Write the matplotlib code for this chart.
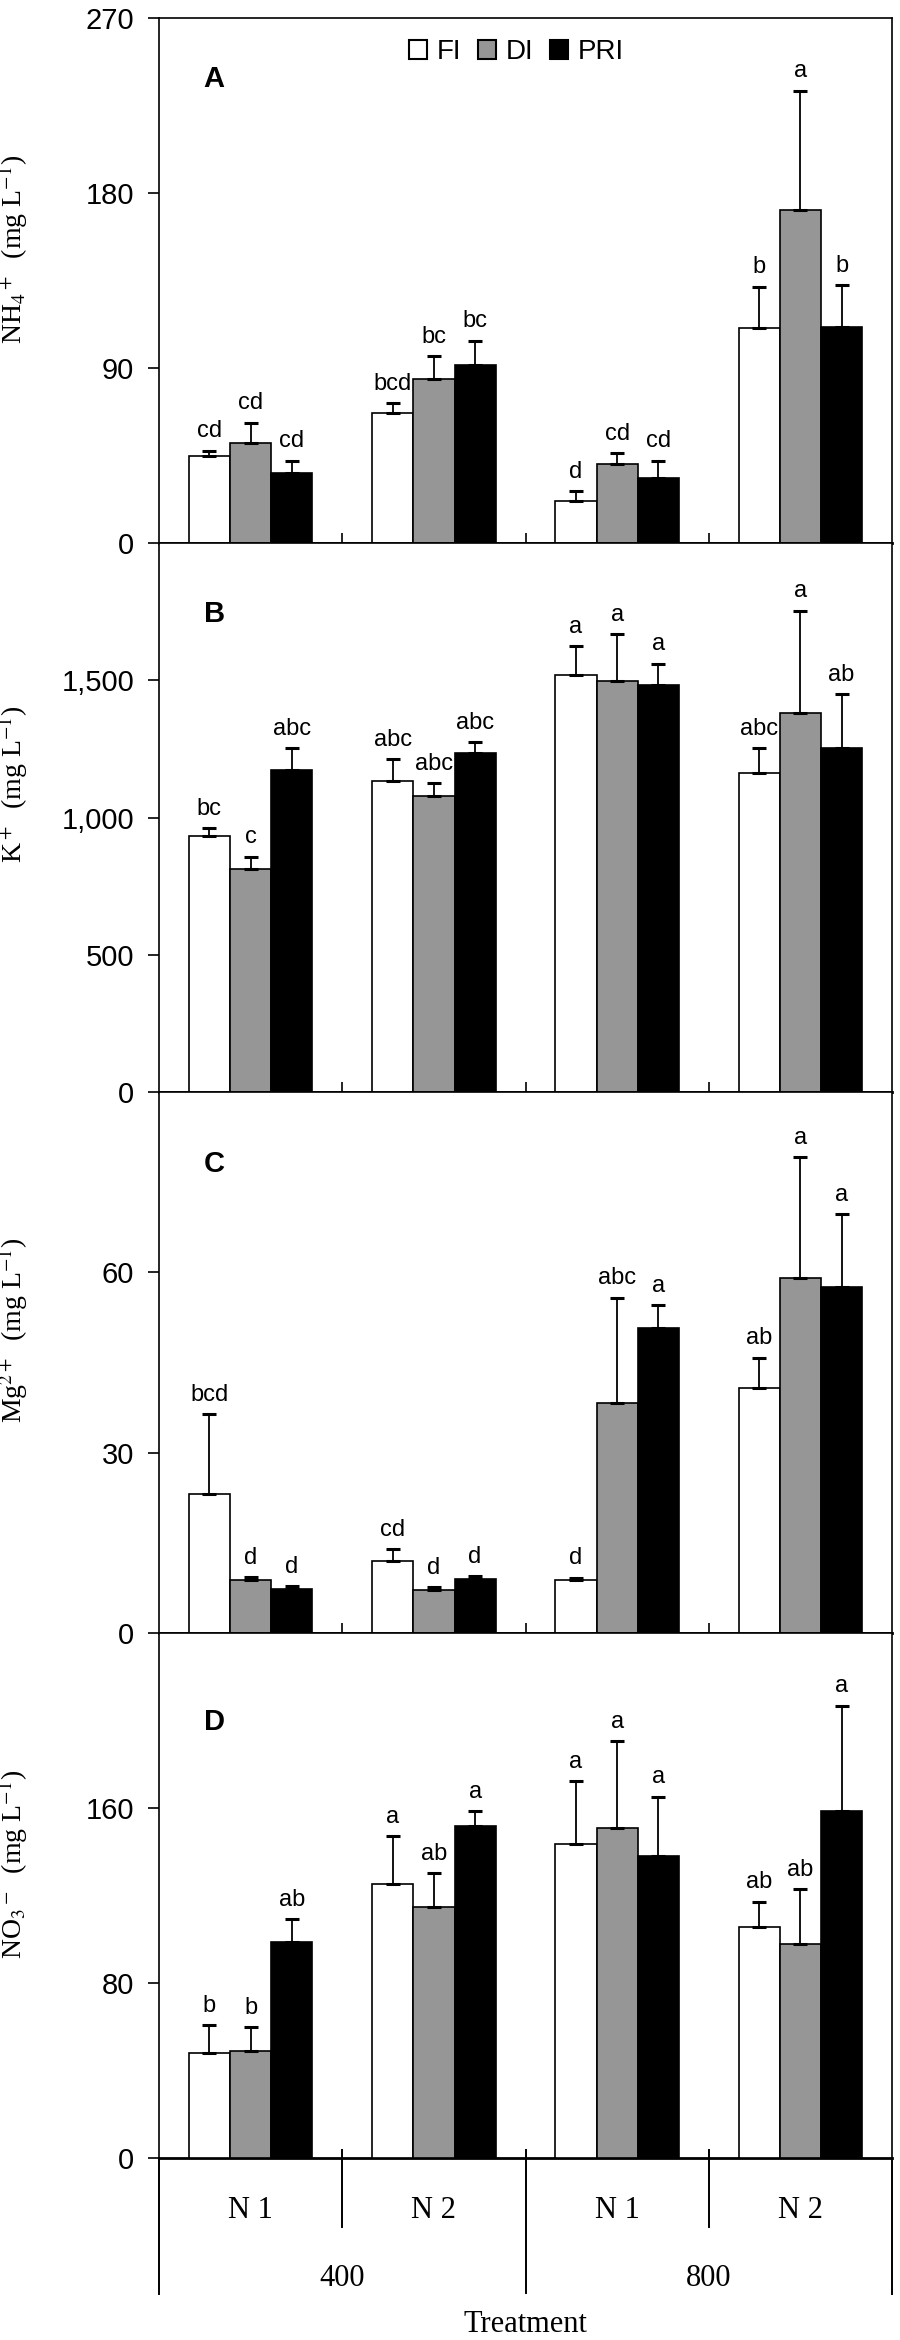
import numpy as np
import matplotlib.pyplot as plt
from matplotlib.patches import Patch
from matplotlib.transforms import blended_transform_factory

plt.rcParams['font.family'] = ['Liberation Sans', 'DejaVu Sans']
plt.rcParams['mathtext.fontset'] = 'stix'

# data
groups = ['N 1', 'N 2', 'N 1', 'N 2']
levels = ['400', '800']
series = ['FI', 'DI', 'PRI']
colors = ['white', '#969696', 'black']

# A: NH4+
nh4_mean = [[44.9, 66.9, 21.6, 110.8],
            [51.6, 84.4, 40.8, 171.3],
            [36.0, 91.6, 33.4, 110.9]]
nh4_err = [[2.6, 5.1, 5.1, 21.1],
           [10.3, 11.8, 5.3, 61.4],
           [6.3, 12.5, 8.9, 21.8]]
nh4_let = [['cd', 'bcd', 'd', 'b'],
           ['cd', 'bc', 'cd', 'a'],
           ['cd', 'bc', 'cd', 'b']]

# B: K+
k_mean = [[932, 1133, 1518, 1161],
          [814, 1079, 1499, 1382],
          [1172, 1235, 1482, 1254]]
k_err = [[28, 79, 106, 91],
         [43, 46, 170, 372],
         [80, 40, 79, 196]]
k_let = [['bc', 'abc', 'a', 'abc'],
         ['c', 'abc', 'a', 'a'],
         ['abc', 'abc', 'a', 'ab']]

# C: Mg2+
mg_mean = [[23.2, 11.9, 8.8, 40.7],
           [8.8, 7.1, 38.3, 59.1],
           [7.4, 9.0, 50.8, 57.6]]
mg_err = [[13.2, 2.0, 0.4, 5.1],
          [0.5, 0.5, 17.5, 20.1],
          [0.4, 0.4, 3.7, 12.1]]
mg_let = [['bcd', 'cd', 'd', 'ab'],
          ['d', 'd', 'abc', 'a'],
          ['d', 'd', 'a', 'a']]

# D: NO3-
no3_mean = [[48.1, 125.4, 143.5, 105.7],
            [48.9, 114.9, 150.7, 97.7],
            [98.9, 151.9, 138.2, 158.8]]
no3_err = [[12.7, 21.8, 28.8, 11.5],
           [10.8, 15.2, 39.9, 25.1],
           [10.2, 6.7, 27.0, 48.0]]
no3_let = [['b', 'a', 'a', 'ab'],
           ['b', 'ab', 'a', 'ab'],
           ['ab', 'a', 'a', 'a']]

panels = [
    ('A', r'NH$_4$$^+$  (mg L$^{-1}$)', nh4_mean, nh4_err, nh4_let, 270, [0, 90, 180, 270], 0.910),
    ('B', r'K$^+$  (mg L$^{-1}$)', k_mean, k_err, k_let, 2000, [0, 500, 1000, 1500], 0.896),
    ('C', r'Mg$^{2+}$  (mg L$^{-1}$)', mg_mean, mg_err, mg_let, 90, [0, 30, 60], 0.893),
    ('D', r'NO$_3$$^-$  (mg L$^{-1}$)', no3_mean, no3_err, no3_let, 240, [0, 80, 160], 0.857),
]

# axes rectangles in figure fraction (pixel layout 900 x 2340)
rects = [(0.1767, 0.76795, 0.8144, 0.22436),
         (0.1767, 0.53333, 0.8144, 0.23462),
         (0.1767, 0.30214, 0.8144, 0.23120),
         (0.1767, 0.07778, 0.8144, 0.22436)]

fig = plt.figure(figsize=(9, 23.4), dpi=100)

x = np.arange(len(groups)) + 0.5
w = 0.225
offsets = [-w, 0, w]

axes = []
for (tag, ylab, means, errs, lets, ymax, yt, tag_y), rect in zip(panels, rects):
    ax = fig.add_axes(rect)
    axes.append(ax)
    for i in range(3):
        m = np.array(means[i])
        e = np.array(errs[i])
        ax.bar(x + offsets[i], m, w, color=colors[i], edgecolor='black',
               linewidth=1.2, yerr=[np.zeros_like(e), e], capsize=5,
               error_kw=dict(elinewidth=1.3, capthick=2.2, ecolor='black'),
               zorder=3)
        for xi, top, lab in zip(x + offsets[i], m + e, lets[i]):
            ax.annotate(lab, (xi, top), xytext=(0, 6), textcoords='offset points',
                        ha='center', va='bottom', fontsize=17)
    ax.set_xlim(0, 4)
    ax.set_ylim(0, ymax)
    ax.set_yticks(yt)
    ax.set_yticklabels(['{:,}'.format(v) for v in yt])
    ax.tick_params(axis='y', direction='out', length=8, width=1.2, pad=10, labelsize=21)
    ax.set_xticks([1, 2, 3])
    ax.set_xticklabels([])
    ax.tick_params(axis='x', direction='inout', length=14, width=1.2)
    for s in ['left', 'right', 'top']:
        ax.spines[s].set_linewidth(1.2)
    ax.spines['bottom'].set_linewidth(2)
    ax.set_ylabel(ylab, family=['Liberation Serif', 'DejaVu Serif'], fontsize=20)
    ax.yaxis.set_label_coords(-0.176, 0.56)
    ax.text(0.061, tag_y, tag, transform=ax.transAxes, fontsize=21,
            fontweight='bold', ha='left', va='top')

# legend in panel A
handles = [Patch(facecolor=c, edgecolor='black', linewidth=1.5) for c in colors]
axes[0].legend(handles, series, loc='center', bbox_to_anchor=(0.488, 0.935),
               ncol=3, frameon=False, fontsize=20, handlelength=0.65,
               handleheight=0.7, handletextpad=0.35, columnspacing=0.6,
               borderaxespad=0)

# category axis under panel D
axd = axes[3]
axd.set_xticks([])
tr = blended_transform_factory(axd.transData, axd.transAxes)
for xv, y0 in [(1, -0.131), (3, -0.131), (2, -0.257), (0, -0.26), (4, -0.26)]:
    top = 0.0 if xv in (0, 4) else 0.015
    axd.plot([xv, xv], [top, y0], color='black', lw=1.4, transform=tr, clip_on=False)
serif = ['Liberation Serif', 'DejaVu Serif']
for xv, lab in zip(x, groups):
    axd.text(xv, -0.114, lab, transform=tr, ha='center', va='baseline',
             fontsize=22, family=serif)
for xv, lab in zip([1, 3], levels):
    axd.text(xv, -0.244, lab, transform=tr, ha='center', va='baseline',
             fontsize=22, family=serif)
fig.text(525 / 900, 0.0034, 'Treatment', ha='center', va='baseline',
         fontsize=22, family=serif)

fig.savefig('out.png', dpi=100)
